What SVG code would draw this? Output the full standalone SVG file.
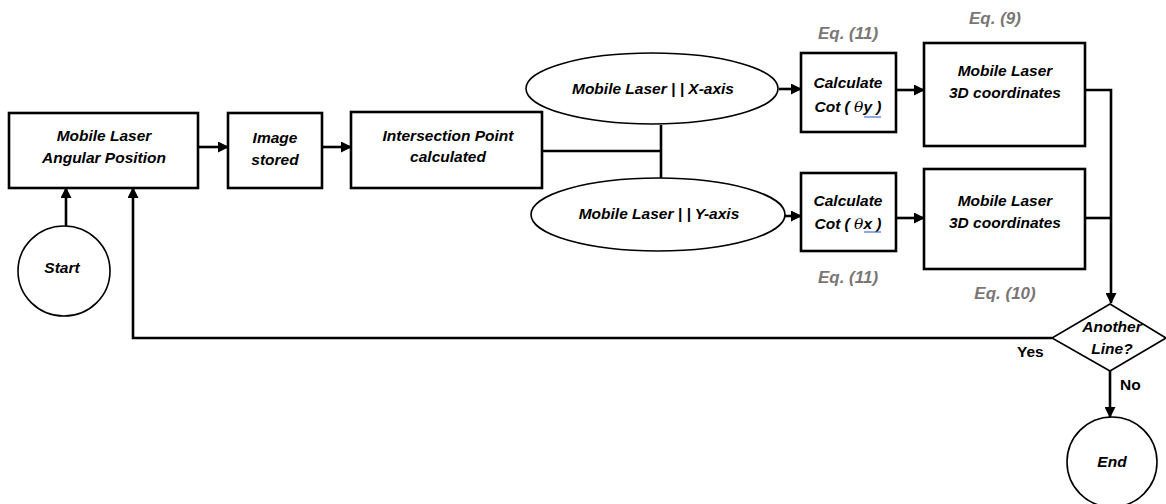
<svg xmlns="http://www.w3.org/2000/svg" width="1166" height="504" viewBox="0 0 1166 504">
<defs>
<style>
.box{fill:#fff;stroke:#000;stroke-width:2.6}
.thin{fill:#fff;stroke:#000;stroke-width:1.6}
.t{font-family:"Liberation Sans",Arial,sans-serif;font-size:15.5px;font-weight:bold;font-style:italic;fill:#000;text-anchor:middle}
.eq{font-family:"Liberation Sans",Arial,sans-serif;font-size:17px;font-weight:bold;font-style:italic;fill:#7a7676;text-anchor:middle}
.lbl{font-family:"Liberation Sans",Arial,sans-serif;font-size:15.5px;font-weight:bold;fill:#000}
.th{font-family:"DejaVu Serif","Liberation Serif",serif;font-style:italic;font-weight:normal}
.c{fill:none;stroke:#000;stroke-width:2.6}
.a{marker-end:url(#ah)}
</style>
<marker id="ah" markerUnits="userSpaceOnUse" markerWidth="11" markerHeight="11" refX="10" refY="5.5" orient="auto">
<path d="M0,0 L11,5.5 L0,11 z" fill="#000"/>
</marker>
</defs>
<rect width="1166" height="504" fill="#fff"/>

<g id="connectors">
<path class="c a" d="M198,147 H228"/>
<path class="c a" d="M322,147 H351"/>
<path class="c" d="M542,151 H661 M661,125 V178"/>
<path class="c a" d="M779,89 H801"/>
<path class="c a" d="M785,216 H801"/>
<path class="c a" d="M896,90 H924"/>
<path class="c a" d="M896,218 H924"/>
<path class="c a" d="M1085,90 H1111 V303"/>
<path class="c" d="M1085,218 H1111"/>
<path class="c a" d="M1110,371 V417"/>
<path class="c a" d="M1052,338 H133 V188"/>
<path class="c a" d="M66,226 V188"/>
</g>

<g id="angular">
<rect class="box" x="9" y="113" width="189" height="75"/>
<text class="t" x="104" y="141">Mobile Laser</text>
<text class="t" x="104" y="163">Angular Position</text>
</g>

<g id="image">
<rect class="box" x="228" y="113" width="94" height="75"/>
<text class="t" x="275" y="143">Image</text>
<text class="t" x="275" y="165">stored</text>
</g>

<g id="intersection">
<rect class="box" x="351" y="112" width="191" height="76"/>
<text class="t" x="448" y="141">Intersection Point</text>
<text class="t" x="448" y="162">calculated</text>
</g>

<g id="xaxis">
<ellipse class="thin" cx="652" cy="88.5" rx="126" ry="35.5"/>
<text class="t" x="653" y="94">Mobile Laser | | X-axis</text>
</g>

<g id="yaxis">
<ellipse class="thin" cx="658" cy="214.5" rx="127" ry="36.5"/>
<text class="t" x="659" y="219">Mobile Laser | | Y-axis</text>
</g>

<g id="coty">
<rect class="box" x="801" y="53" width="95" height="79"/>
<text class="t" x="848" y="88">Calculate</text>
<text class="t" x="848" y="112">Cot ( <tspan class="th">θ</tspan>y )</text>
<line x1="864" y1="117" x2="881" y2="117" stroke="#4472c4" stroke-width="1.2"/>
</g>

<g id="cotx">
<rect class="box" x="801" y="173" width="95" height="78"/>
<text class="t" x="848" y="206">Calculate</text>
<text class="t" x="848" y="229">Cot ( <tspan class="th">θ</tspan>x )</text>
<line x1="864" y1="232" x2="881" y2="232" stroke="#4472c4" stroke-width="1.2"/>
</g>

<g id="coords1">
<rect class="box" x="924" y="43" width="161" height="103"/>
<text class="t" x="1005" y="76">Mobile Laser</text>
<text class="t" x="1005" y="98">3D coordinates</text>
</g>

<g id="coords2">
<rect class="box" x="924" y="169" width="161" height="100"/>
<text class="t" x="1005" y="206">Mobile Laser</text>
<text class="t" x="1005" y="228">3D coordinates</text>
</g>

<g id="eqs">
<text class="eq" x="848" y="39">Eq. (11)</text>
<text class="eq" x="995" y="24">Eq. (9)</text>
<text class="eq" x="848" y="283">Eq. (11)</text>
<text class="eq" x="1005" y="299">Eq. (10)</text>
</g>

<g id="decision">
<polygon class="thin" points="1110,304 1166,338 1110,371 1052,338"/>
<text class="t" x="1112" y="332">Another</text>
<text class="t" x="1112" y="354">Line?</text>
<text class="lbl" x="1017" y="357">Yes</text>
<text class="lbl" x="1120" y="390">No</text>
</g>

<g id="start">
<ellipse class="thin" cx="64" cy="271" rx="46" ry="45"/>
<text class="t" x="62" y="273">Start</text>
</g>

<g id="end">
<circle class="thin" cx="1112" cy="462" r="45"/>
<text class="t" x="1112" y="467">End</text>
</g>
</svg>
